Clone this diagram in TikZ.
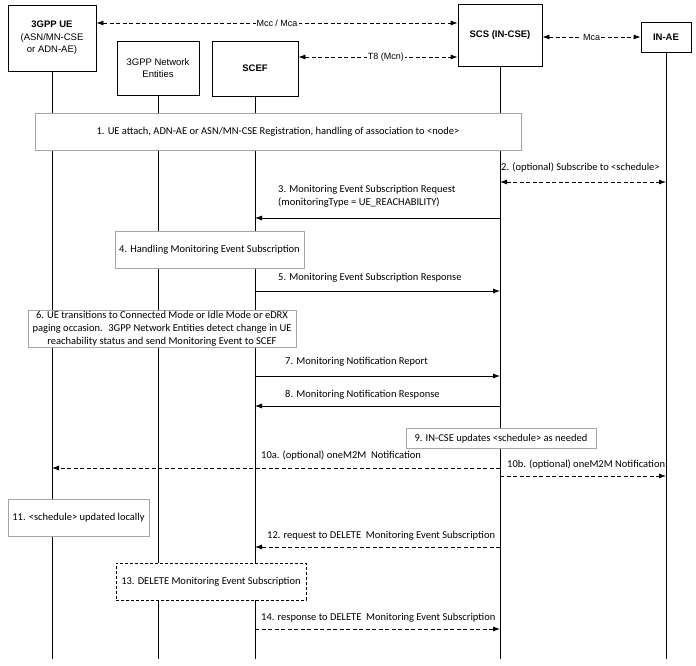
\documentclass[tikz,border=0pt]{standalone}
\usepackage{fontspec}
\setmainfont{Carlito}
\newfontfamily\headfont{Liberation Sans}
\usetikzlibrary{arrows.meta}
\newcommand{\msgfont}{\fontsize{10.5}{13}\selectfont}
\newcommand{\makemsg}[8]{
	\coordinate (#1from) at (#2 |- 0,#4);
	\coordinate (#1to) at (#3 |- 0,#4);
	\draw[#5] (#1from) -- (#1to);
	\node[msgtext] (#1txt) at (#6,#7) {#8};
}
\tikzset{
	actor/.style={draw, line width=0.8pt, align=center, inner sep=2pt, font=\headfont\fontsize{9.5}{12.5}\selectfont},
	stepbox/.style={draw=black!35, fill=white, line width=0.8pt, align=center, inner sep=2pt, font=\msgfont},
	msgtext/.style={anchor=west, align=left, inner sep=0pt, font=\msgfont},
	lifeline/.style={line width=0.8pt},
	solidmsg/.style={line width=0.8pt, -{Latex[length=7pt,width=5pt]}},
	dashmsg/.style={solidmsg, dash pattern=on 4pt off 2.5pt},
	twoway/.style={line width=0.8pt, dash pattern=on 4pt off 2.5pt, {Latex[length=7pt,width=5pt]}-{Latex[length=7pt,width=5pt]}},
	linklabel/.style={fill=white, inner sep=1pt, font=\headfont\fontsize{9}{11}\selectfont}
}

\begin{document}
\begin{tikzpicture}[x=1pt,y=-1pt]
	\useasboundingbox (0,0) rectangle (696,666);

	\node[actor, minimum width=88pt, minimum height=66pt] (UE) at (52,38) {\textbf{3GPP UE}\\(ASN/MN-CSE\\or ADN-AE)};
	\node[actor, minimum width=82pt, minimum height=54pt] (NE) at (158,68) {3GPP Network\\Entities};
	\node[actor, minimum width=86pt, minimum height=55pt] (SCEF) at (255,68.5) {\textbf{SCEF}};
	\node[actor, minimum width=84pt, minimum height=62pt] (SCS) at (500,35) {\textbf{SCS (IN-CSE)}};
	\node[actor, minimum width=50pt, minimum height=30pt] (INAE) at (666,37) {\textbf{IN-AE}};

	\draw[lifeline] (UE.south) -- (UE.south |- 0,659);
	\draw[lifeline] (NE.south) -- (NE.south |- 0,659);
	\draw[lifeline] (SCEF.south) -- (SCEF.south |- 0,659);
	\draw[lifeline] (SCS.south) -- (SCS.south |- 0,659);
	\draw[lifeline] (INAE.south) -- (INAE.south |- 0,659);

	\coordinate (mccA) at (UE.east |- 0,23);
	\coordinate (mccB) at (SCS.west |- 0,23);
	\coordinate (t8A) at (SCEF.east |- 0,57);
	\coordinate (t8B) at (SCS.west |- 0,57);
	\coordinate (mcaA) at (SCS.east |- 0,37);
	\coordinate (mcaB) at (INAE.west |- 0,37);
	\draw[twoway] (mccA) -- node[linklabel] (mcclabel) {Mcc / Mca} (mccB);
	\draw[twoway] (t8A) -- node[linklabel, pos=0.55] (t8label) {T8 (Mcn)} (t8B);
	\draw[twoway] (mcaA) -- node[linklabel] (mcalabel) {Mca} (mcaB);

	\node[stepbox, minimum width=486pt, minimum height=37pt] (step1) at (278,131.5) {1. UE attach, ADN-AE or ASN/MN-CSE Registration, handling of association to <node>};
	\node[stepbox, minimum width=189pt, minimum height=37pt] (step4) at (209.5,249.5) {4. Handling Monitoring Event Subscription};
	\node[stepbox, minimum width=268pt, minimum height=37pt, inner sep=1pt] (step6) at (162,328.5) {6. UE transitions to Connected Mode or Idle Mode or eDRX\\paging occasion.~ 3GPP Network Entities detect change in UE\\reachability status and send Monitoring Event to SCEF};
	\node[stepbox, minimum width=190pt, minimum height=20pt] (step9) at (501,438.5) {9. IN-CSE updates <schedule> as needed};
	\node[stepbox, minimum width=141pt, minimum height=37pt] (step11) at (78.5,517.5) {11. <schedule> updated locally};
	\node[stepbox, draw=black, dash pattern=on 3pt off 2pt, minimum width=190pt, minimum height=37pt] (step13) at (211,581.5) {13. DELETE Monitoring Event Subscription};

	\makemsg{m2}{SCS}{INAE}{182}{twoway}{501}{168}{2. (optional) Subscribe to <schedule>}
	\makemsg{m3}{SCS}{SCEF}{218}{solidmsg}{278}{196}{3. Monitoring Event Subscription Request\\(monitoringType = UE\_REACHABILITY)}
	\makemsg{m5}{SCEF}{SCS}{291}{solidmsg}{278}{278}{5. Monitoring Event Subscription Response}
	\makemsg{m7}{SCEF}{SCS}{376}{solidmsg}{285}{362}{7. Monitoring Notification Report}
	\makemsg{m8}{SCS}{SCEF}{406}{solidmsg}{285}{395}{8. Monitoring Notification Response}
	\makemsg{m10a}{SCS}{UE}{468}{dashmsg}{261}{456}{10a. (optional) oneM2M~ Notification}
	\makemsg{m10b}{SCS}{INAE}{476}{dashmsg}{507}{465}{10b. (optional) oneM2M Notification}
	\makemsg{m12}{SCS}{SCEF}{547}{dashmsg}{267}{536}{12. request to DELETE~ Monitoring Event Subscription}
	\makemsg{m14}{SCEF}{SCS}{629}{dashmsg}{261}{618}{14. response to DELETE~ Monitoring Event Subscription}
\end{tikzpicture}
\end{document}
